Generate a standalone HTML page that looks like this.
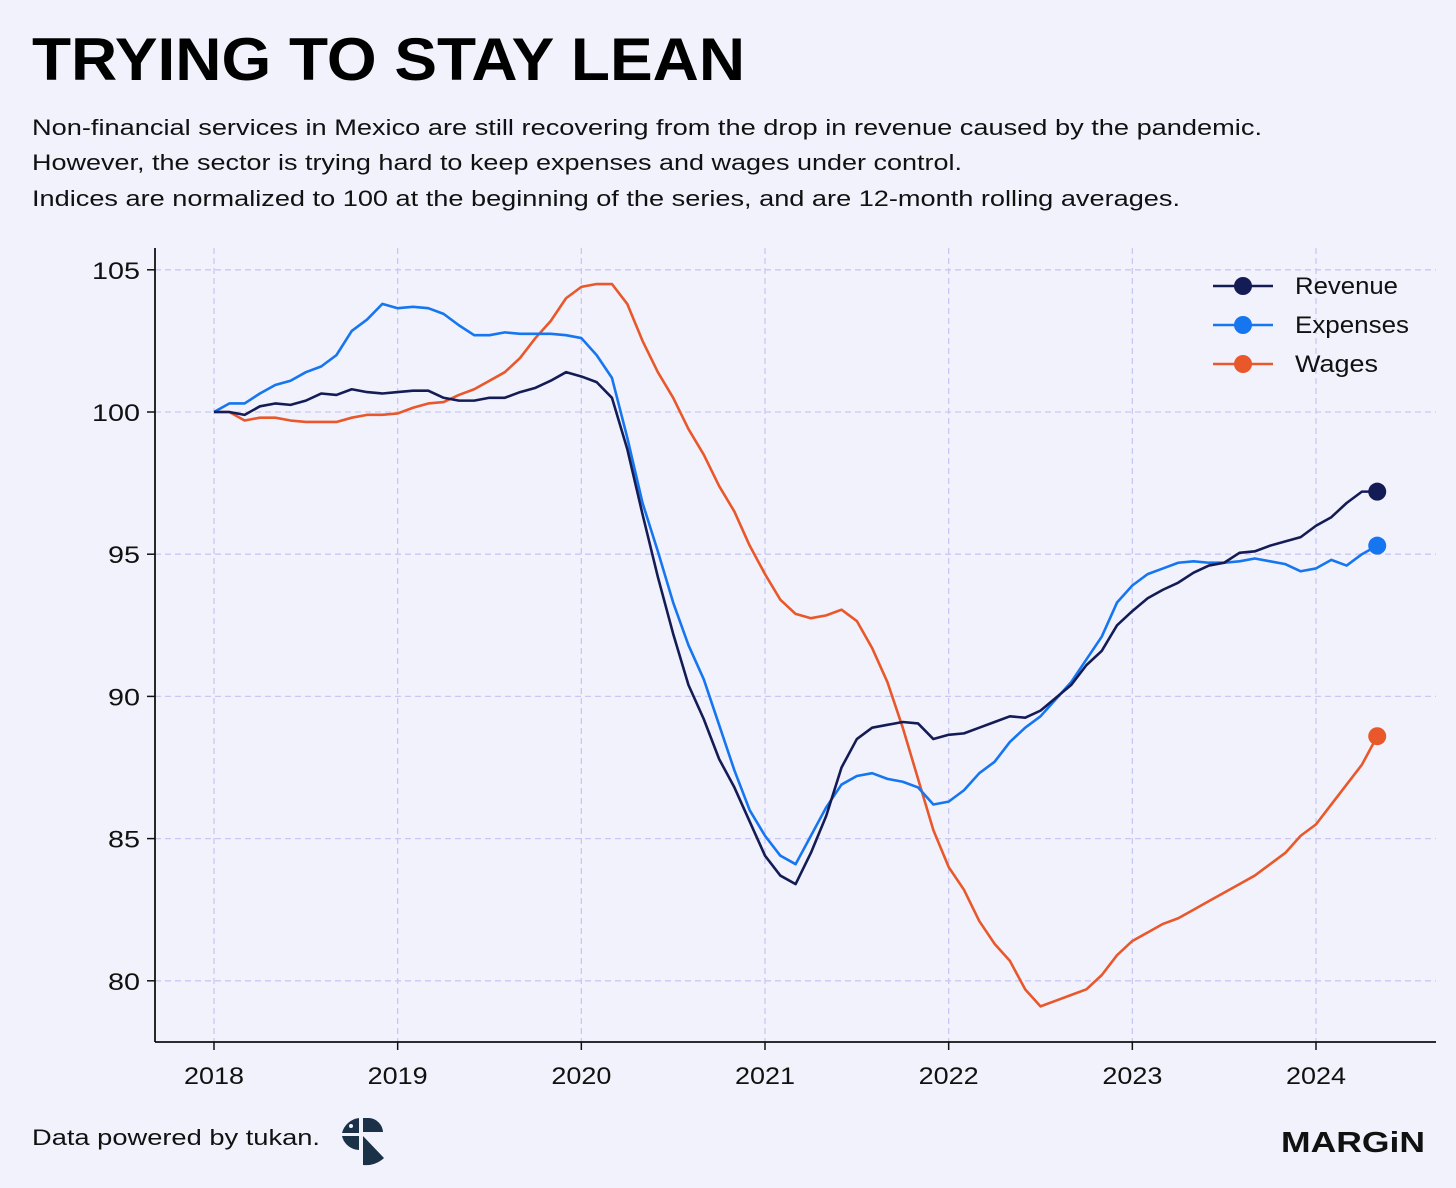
<!DOCTYPE html>
<html><head><meta charset="utf-8"><style>
body{margin:0;background:#f2f2fd;}
svg{display:block;font-family:"Liberation Sans",sans-serif;}
</style></head><body>
<svg id="chart" width="1456" height="1188" viewBox="0 0 1456 1188">
<rect width="1456" height="1188" fill="#f2f2fd"/>
<text x="32" y="80" font-size="60" font-weight="bold" fill="#000" textLength="713" lengthAdjust="spacingAndGlyphs">TRYING TO STAY LEAN</text>
<g font-size="22" fill="#111">
<text x="32" y="135" textLength="1230" lengthAdjust="spacingAndGlyphs">Non-financial services in Mexico are still recovering from the drop in revenue caused by the pandemic.</text>
<text x="32" y="170" textLength="930" lengthAdjust="spacingAndGlyphs">However, the sector is trying hard to keep expenses and wages under control.</text>
<text x="32" y="206" textLength="1148" lengthAdjust="spacingAndGlyphs">Indices are normalized to 100 at the beginning of the series, and are 12-month rolling averages.</text>
</g>
<g id="grid"></g>
<g id="axes"></g>
<g id="series"></g>
<g font-size="24" fill="#111">
<g><line x1="1213" y1="286" x2="1273" y2="286" stroke="#141c55" stroke-width="2.5"/><circle cx="1243" cy="286" r="9" fill="#141c55"/><text x="1295" y="294" textLength="103" lengthAdjust="spacingAndGlyphs">Revenue</text></g>
<g><line x1="1213" y1="325" x2="1273" y2="325" stroke="#1576f0" stroke-width="2.5"/><circle cx="1243" cy="325" r="9" fill="#1576f0"/><text x="1295" y="333" textLength="114" lengthAdjust="spacingAndGlyphs">Expenses</text></g>
<g><line x1="1213" y1="364" x2="1273" y2="364" stroke="#e8582a" stroke-width="2.5"/><circle cx="1243" cy="364" r="9" fill="#e8582a"/><text x="1295" y="372" textLength="83" lengthAdjust="spacingAndGlyphs">Wages</text></g>
</g>
<text x="32" y="1145" font-size="22" fill="#111" textLength="288" lengthAdjust="spacingAndGlyphs">Data powered by tukan.</text>
<g fill="#1a3147">
<path d="M359 1118 A20 20 0 0 0 342 1133 L359 1133 Z"/>
<path d="M342 1136 L359 1136 L359 1150 A18 18 0 0 1 342 1136 Z"/>
<path d="M363 1118 L369 1118 A15 15 0 0 1 383 1132 L363 1132 Z"/>
<path d="M363 1136 L384 1158 A26 26 0 0 1 363 1165 Z"/>
<circle cx="351" cy="1126" r="2" fill="#f2f2fd"/>
</g>
<text x="1425" y="1152" font-size="29" font-weight="bold" fill="#111" text-anchor="end" textLength="144" lengthAdjust="spacingAndGlyphs">MARGiN</text>
</svg>
<script>
const years=["2018","2019","2020","2021","2022","2023","2024"];
const yTicks=[80,85,90,95,100,105];
const revenue=[100,100,99.9,100.2,100.3,100.25,100.4,100.65,100.6,100.8,100.7,100.65,
100.7,100.75,100.75,100.5,100.4,100.4,100.5,100.5,100.7,100.85,101.1,101.4,
101.25,101.05,100.5,98.7,96.4,94.2,92.2,90.4,89.2,87.8,86.8,85.6,
84.4,83.7,83.4,84.5,85.8,87.5,88.5,88.9,89.0,89.1,89.05,88.5,
88.65,88.7,88.9,89.1,89.3,89.25,89.5,89.95,90.4,91.1,91.6,92.5,
93.0,93.45,93.75,94.0,94.35,94.6,94.7,95.05,95.1,95.3,95.45,95.6,
96.0,96.3,96.8,97.2,97.2];
const expenses=[100,100.3,100.3,100.65,100.95,101.1,101.4,101.6,102.0,102.85,103.25,103.8,
103.65,103.7,103.65,103.45,103.05,102.7,102.7,102.8,102.75,102.75,102.75,102.7,
102.6,102.0,101.2,99.1,96.8,95.1,93.3,91.8,90.6,89.0,87.4,86.0,
85.1,84.4,84.1,85.1,86.1,86.9,87.2,87.3,87.1,87.0,86.8,86.2,
86.3,86.7,87.3,87.7,88.4,88.9,89.3,89.9,90.5,91.3,92.1,93.3,
93.9,94.3,94.5,94.7,94.75,94.7,94.7,94.75,94.85,94.75,94.65,94.4,
94.5,94.8,94.6,95.0,95.3];
const wages=[100,100.0,99.7,99.8,99.8,99.7,99.65,99.65,99.65,99.8,99.9,99.9,
99.95,100.15,100.3,100.35,100.6,100.8,101.1,101.4,101.9,102.6,103.2,104.0,
104.4,104.5,104.5,103.8,102.5,101.4,100.5,99.4,98.5,97.4,96.5,95.3,
94.3,93.4,92.9,92.75,92.85,93.05,92.65,91.7,90.5,88.9,87.1,85.3,
84.0,83.2,82.1,81.3,80.7,79.7,79.1,79.3,79.5,79.7,80.2,80.9,
81.4,81.7,82.0,82.2,82.5,82.8,83.1,83.4,83.7,84.1,84.5,85.1,
85.5,86.2,86.9,87.6,88.6];
const NS="http://www.w3.org/2000/svg";
const x=m=>214+m*(1316-214)/72;
const y=v=>412-(v-100)*28.44;
function mk(tag,attrs,parent){const e=document.createElementNS(NS,tag);for(const k in attrs)e.setAttribute(k,attrs[k]);parent.appendChild(e);return e;}
const grid=document.getElementById('grid'),axes=document.getElementById('axes'),ser=document.getElementById('series');
years.forEach((yr,i)=>{
 const gx=x(i*12);
 const l=mk('line',{x1:gx,y1:248,x2:gx,y2:1042,stroke:'#c8c8f5','stroke-width':1.3,'stroke-dasharray':'6,4'},grid);
 
 
 const t=mk('line',{x1:gx,y1:1042,x2:gx,y2:1050,stroke:'#111','stroke-width':1.5},axes);
 
 
 const tx=mk('text',{x:gx-30,y:1084,'font-size':24,fill:'#111',textLength:60,lengthAdjust:'spacingAndGlyphs'},axes);
 tx.textContent=yr;
 
 
});
yTicks.forEach(v=>{
 const gy=y(v);
 const l=mk('line',{x1:155,y1:gy,x2:1436,y2:gy,stroke:'#c8c8f5','stroke-width':1.3,'stroke-dasharray':'6,4'},grid);
 
 
 const t=mk('line',{x1:147,y1:gy,x2:155,y2:gy,stroke:'#111','stroke-width':1.5},axes);
 
 
 const w=String(v).length*16;
 const tx=mk('text',{x:140-w,y:gy+9,'font-size':24,fill:'#111',textLength:w,lengthAdjust:'spacingAndGlyphs'},axes);
 tx.textContent=v;
 
 
});
const ya=mk('line',{x1:155,y1:248,x2:155,y2:1042,stroke:'#111','stroke-width':1.8},axes);


const xa=mk('line',{x1:155,y1:1042,x2:1436,y2:1042,stroke:'#111','stroke-width':1.8},axes);


[[wages,'#e8582a','wages'],[expenses,'#1576f0','expenses'],[revenue,'#141c55','revenue']].forEach(([d,c,n])=>{
 const p=mk('polyline',{points:d.map((v,i)=>x(i)+','+y(v)).join(' '),fill:'none',stroke:c,'stroke-width':2.6,'stroke-linejoin':'round'},ser);
 
 
 const last=d.length-1;
 const cc=mk('circle',{cx:x(last),cy:y(d[last]),r:9,fill:c},ser);
 
 
});
</script>
</body></html>
